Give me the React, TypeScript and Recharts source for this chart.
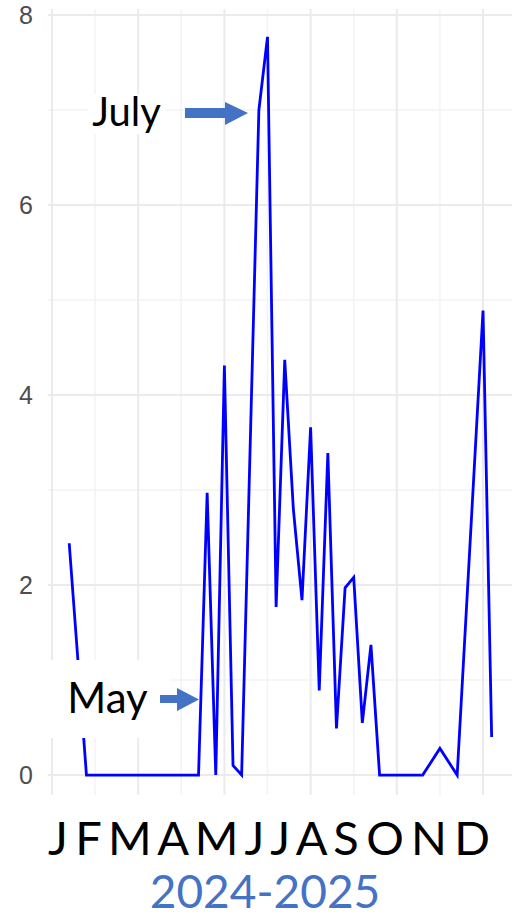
import { CartesianGrid, Line, LineChart, XAxis, YAxis } from 'recharts';

// week index within the season, and the weekly value
const weeks = [2, 4, 5, 6, 7, 8, 9, 10, 11, 12, 13, 14, 15, 16, 17, 18, 19, 20, 21, 22, 24, 25, 26, 27, 28, 29, 30, 31, 32, 33, 34, 35, 36, 37, 38, 39, 40, 41, 42, 43, 45, 47, 50, 51];
const counts = [2.44, 0, 0, 0, 0, 0, 0, 0, 0, 0, 0, 0, 0, 0, 0, 2.97, 0, 4.31, 0.1, 0, 7.0, 7.77, 1.77, 4.37, 2.8, 1.84, 3.66, 0.89, 3.39, 0.49, 1.97, 2.08, 0.55, 1.37, 0, 0, 0, 0, 0, 0, 0.28, 0, 4.89, 0.4];

const yTicks = [0, 2, 4, 6, 8];
const yMinor = [1, 3, 5, 7];
const xMajor = [0, 10, 20, 30, 40, 50];
const xMinor = [5, 15, 25, 35, 45];
const monthLetters = ['J', 'F', 'M', 'A', 'M', 'J', 'J', 'A', 'S', 'O', 'N', 'D'];
const seasonLabel = '2024-2025';

const data = weeks.map((w, i) => ({ week: w, count: counts[i] }));

const annotBlue = '#4472C4';
const calloutFont = 'Lato, "Open Sans", sans-serif';

export default function App() {
  return (
    <div style={{ position: 'absolute', left: 0, top: 0, width: 512, height: 918, background: '#fff' }}>
      <LineChart width={512} height={918} data={data} margin={{ top: 9, right: 0, bottom: 123, left: 0 }}>
        <CartesianGrid horizontalValues={yMinor} verticalValues={xMinor} stroke="#f3f3f3" strokeWidth={1.5} />
        <CartesianGrid horizontalValues={yTicks} verticalValues={xMajor} stroke="#ebebeb" strokeWidth={2} />
        <XAxis type="number" dataKey="week" domain={[-0.46, 53.36]} allowDataOverflow hide />
        <YAxis
          type="number"
          domain={[-0.21, 8.063]}
          ticks={yTicks}
          allowDataOverflow
          width={48}
          tickLine={false}
          axisLine={false}
          tickSize={0}
          tickMargin={15}
          tick={{ fill: '#4d4d4d', fontSize: 25, fontFamily: '"Liberation Sans", Arial, sans-serif' }}
        />
        <Line type="linear" dataKey="count" stroke="#0000ff" strokeWidth={2.8} dot={false} isAnimationActive={false} />
      </LineChart>
      <svg width={512} height={918} style={{ position: 'absolute', left: 0, top: 0, pointerEvents: 'none' }}>
        {/* callout boxes */}
        <rect x={88} y={94} width={77} height={40} fill="#fff" />
        <text x={126.5} y={126} textAnchor="middle" fontSize={40} fontFamily={calloutFont} fill="#000">July</text>
        <polygon points="185,108 225,108 225,102 248,113 225,125 225,118 185,118" fill={annotBlue} />

        <rect x={44} y={660} width={126} height={78} fill="#fff" />
        <text x={107.5} y={713} textAnchor="middle" fontSize={42} fontFamily={calloutFont} fill="#000">May</text>
        <polygon points="160,695 177,695 177,688 199,699.5 177,711 177,703 160,703" fill={annotBlue} />

        {/* month initials and season */}
        <text x={48} y={855} fontSize={47} fontFamily={calloutFont} fill="#000" textLength={442} lengthAdjust="spacing">
          {monthLetters.join(' ')}
        </text>
        <text x={265} y={908} textAnchor="middle" fontSize={46} fontFamily={calloutFont} fill={annotBlue}>{seasonLabel}</text>
      </svg>
    </div>
  );
}
